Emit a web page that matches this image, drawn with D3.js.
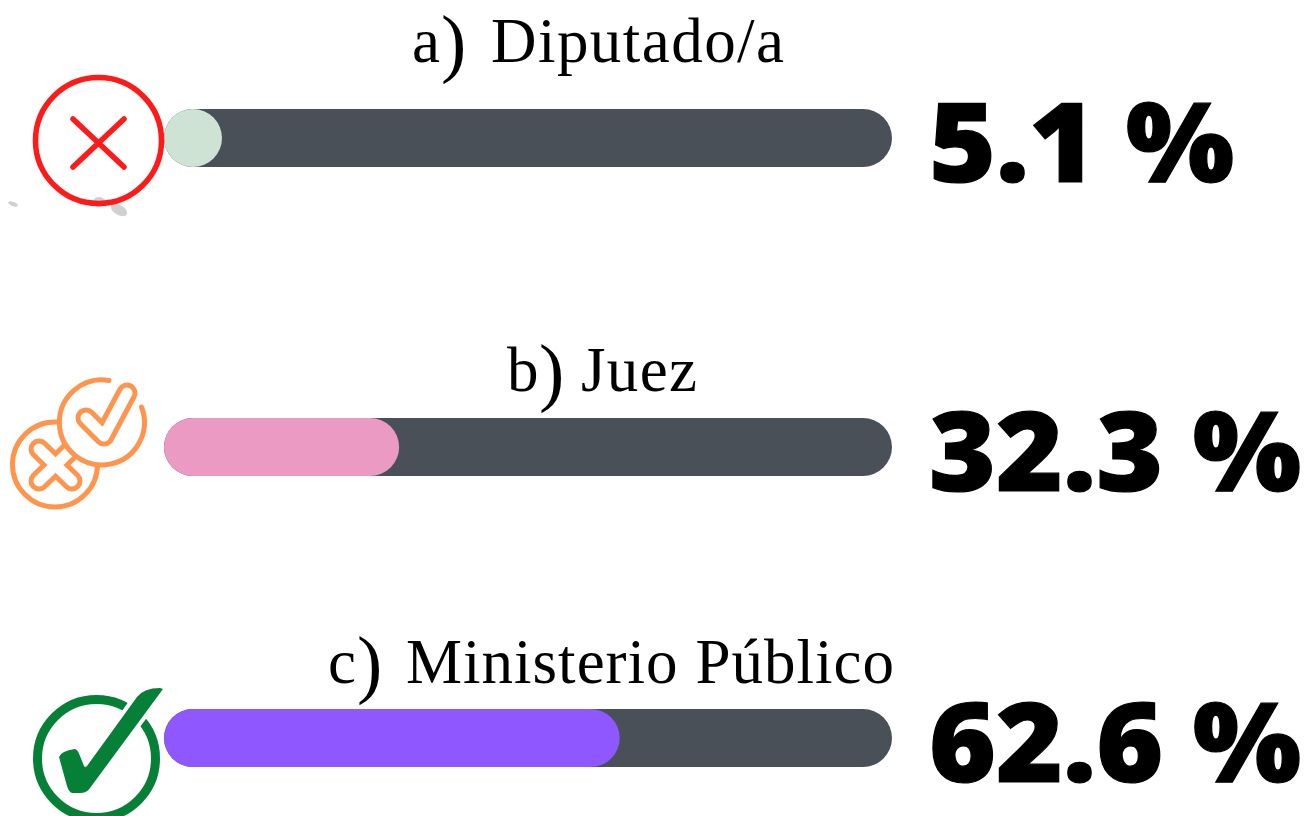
<!DOCTYPE html>
<html lang="en">
<head>
<meta charset="utf-8">
<title>Diputado, Juez, Ministerio Público</title>
<script src="https://d3js.org/d3.v7.min.js" charset="utf-8"></script>
<style>
html, body { margin: 0; padding: 0; background: #fff; overflow: hidden; }
svg { display: block; }
.label { font-family: "Liberation Serif", serif; font-size: 63px; fill: #000; }
.paren { font-size: 76px; }
.value { font-family: "Open Sans", sans-serif; font-weight: 800; font-size: 110px; fill: #000; stroke: #000; stroke-width: 1.2px; }
</style>
</head>
<body>
<script type="text/javascript">

var letters = ["a", "b", "c"];
var categories = ["Diputado/a", "Juez", "Ministerio Público"];
var values = [5.1, 32.3, 62.6];
var valueLabels = ["5.1 %", "32.3 %", "62.6 %"];
var barColors = ["#cfe3d5", "#eb9ac3", "#8f57ff"];

var width = 1311, height = 816, barH = 58;
// the three rows are not evenly spaced in the picture
var rowTops = [109, 418, 709];
var baselines = [62, 391, 683];
var letterX = [412, 507, 328];
var parenX = [441, 539, 357];
var nameX = [491, 581, 406];
var nameEnd = [784, 697, 894];

var svg = d3.select("body").append("svg")
  .attr("width", width)
  .attr("height", height);

var x = d3.scaleLinear().domain([0, 100]).range([164, 892]);

var rows = svg.selectAll(".row")
  .data(categories)
  .enter().append("g")
  .attr("class", "row");

// grey track
rows.append("rect")
  .attr("x", x(0))
  .attr("y", function(d, i) { return rowTops[i]; })
  .attr("width", x(100) - x(0))
  .attr("height", barH)
  .attr("rx", barH / 2)
  .attr("fill", "#4a5058");

// value bar, never narrower than its round cap
rows.append("rect")
  .attr("x", x(0))
  .attr("y", function(d, i) { return rowTops[i]; })
  .attr("width", function(d, i) { return Math.max(x(values[i]) - x(0), barH); })
  .attr("height", barH)
  .attr("rx", barH / 2)
  .attr("fill", function(d, i) { return barColors[i]; });

// label: letter, tall thin bracket, then the name stretched to its width
var labels = rows.append("text")
  .attr("class", "label")
  .attr("y", function(d, i) { return baselines[i]; });
labels.append("tspan")
  .attr("x", function(d, i) { return letterX[i]; })
  .text(function(d, i) { return letters[i]; });
labels.append("tspan")
  .attr("class", "paren")
  .attr("x", function(d, i) { return parenX[i]; })
  .attr("y", function(d, i) { return baselines[i] + 6; })
  .text(") ");
labels.append("tspan")
  .attr("class", "name")
  .attr("x", function(d, i) { return nameX[i]; })
  .attr("y", function(d, i) { return baselines[i]; })
  .text(function(d) { return d; })
  .each(function(d, i) {
    var len = this.getComputedTextLength();
    d3.select(this).attr("letter-spacing", (nameEnd[i] - nameX[i] - len) / (d.length - 1));
  });

rows.append("text")
  .attr("class", "value")
  .attr("transform", function(d, i) { return "translate(929," + (rowTops[i] + 73) + ") scale(1.04,1)"; })
  .text(function(d, i) { return valueLabels[i]; });

// icon 1: red cross in a ring, with the grey specks behind it
var red = svg.append("g");
[[13, 204, 5, 2, 20], [99, 202, 6, 5, 0], [119, 210, 9, 5, 30]].forEach(function(s) {
  red.append("ellipse")
    .attr("transform", "translate(" + s[0] + "," + s[1] + ") rotate(" + s[4] + ")")
    .attr("rx", s[2]).attr("ry", s[3])
    .attr("fill", "#d0d0d0");
});
red.append("circle")
  .attr("cx", 98.5).attr("cy", 140.5).attr("r", 63)
  .attr("fill", "none").attr("stroke", "#ff1a1a").attr("stroke-width", 5.5);
red.append("path")
  .attr("d", "M73,119L124,167M124,119L73,167")
  .attr("fill", "none").attr("stroke", "#ff1a1a")
  .attr("stroke-width", 5.5).attr("stroke-linecap", "round");

// icon 2: orange cross and tick, outlined by drawing a thick line and a thinner white one
var orange = "#ff944c";
var mixed = svg.append("g");
function tube(d) {
  mixed.append("path").attr("d", d).attr("fill", "none").attr("stroke", orange)
    .attr("stroke-width", 21).attr("stroke-linecap", "round").attr("stroke-linejoin", "round");
}
function tubeInner(d) {
  mixed.append("path").attr("d", d).attr("fill", "none").attr("stroke", "#fff")
    .attr("stroke-width", 11).attr("stroke-linecap", "round").attr("stroke-linejoin", "round");
}
var crossPath = "M39,449L72,481M39,481L72,449";
var tickPath = "M86,418L104,436L127,393";
mixed.append("circle")
  .attr("cx", 55).attr("cy", 464.5).attr("r", 42.5)
  .attr("fill", "none").attr("stroke", orange).attr("stroke-width", 5);
tube(crossPath);
tubeInner(crossPath);
mixed.append("circle")
  .attr("cx", 102).attr("cy", 422.5).attr("r", 42.5)
  .attr("fill", "#fff");
mixed.append("path")
  .attr("d", "M141.5,407A42.5,42.5 0 1 1 109,380.5")
  .attr("fill", "none").attr("stroke", orange).attr("stroke-width", 5).attr("stroke-linecap", "round");
tube(tickPath);
tubeInner(tickPath);

// icon 3: green tick breaking out of a ring
var green = "#068036";
var tick = "M59,757Q61,751 75,749Q78,750 80,756L84,766Q85,768 87,766L137,697Q144,688 160,688L163,689L90,788Q87,793 80,793L72,793Q69,792 67,786Z";
var ok = svg.append("g");
ok.append("circle")
  .attr("cx", 96.5).attr("cy", 758.5).attr("r", 59)
  .attr("fill", "none").attr("stroke", green).attr("stroke-width", 9);
ok.append("path").attr("d", tick)
  .attr("fill", "#fff").attr("stroke", "#fff").attr("stroke-width", 8);
ok.append("path").attr("d", tick).attr("fill", green);

</script>
</body>
</html>
